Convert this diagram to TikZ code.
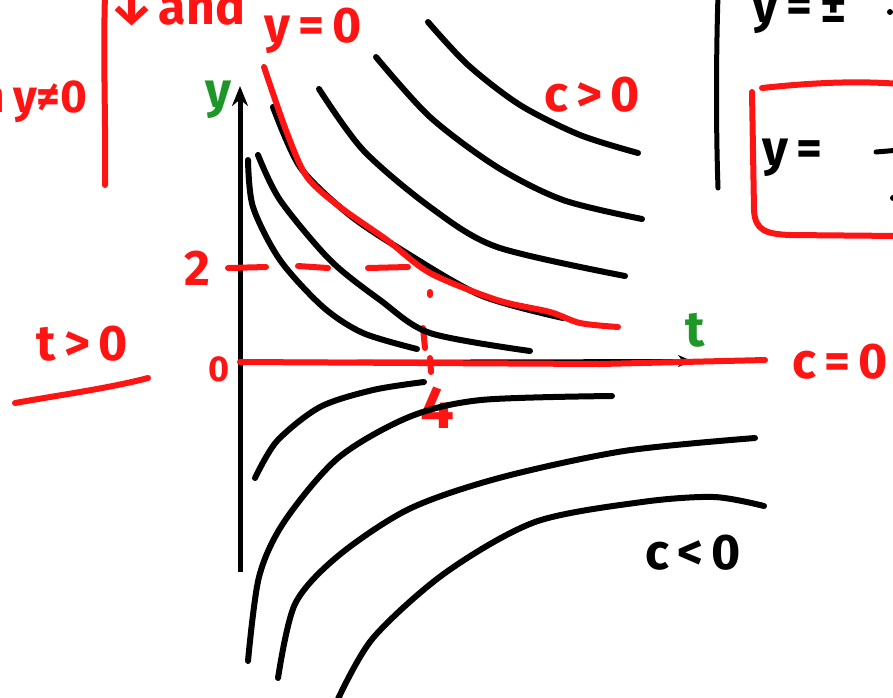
\documentclass[tikz,border=0pt]{standalone}
\usepackage{fontspec}
\setmainfont{Fira Sans}
\usetikzlibrary{arrows.meta}
\definecolor{penred}{RGB}{255,20,20}
\definecolor{pengreen}{RGB}{30,150,40}

\begin{document}
\begin{tikzpicture}[x=1pt,y=-1pt,
  blk/.style={line width=6pt,line cap=round,line join=round,black},
  rd/.style={line width=6pt,line cap=round,line join=round,penred},
  hand/.style={font=\fontsize{50}{54}\selectfont\bfseries,inner sep=0pt},
  small/.style={font=\fontsize{36}{40}\selectfont\bfseries,inner sep=0pt}]
\useasboundingbox (0,0) rectangle (893,697);
\coordinate (O) at (240,362);
% left notes
\draw[rd] (105,-5) .. controls (103,60) and (106,130) .. (105,185);
\node[hand,text=penred,anchor=base east,font=\fontsize{46}{50}\selectfont\bfseries] (ny) at (88,112) {n\,y≠0};
\node[hand,text=penred] (darr) at (132,8) {↓};
\node[hand,text=penred,anchor=base] (and) at (202,24) {and};
\node[hand,text=penred,anchor=base] (yzero) at (313,42) {y\,=\,0};
\node[hand,text=penred,anchor=base] (tpos) at (82,360) {t\,>\,0};
\draw[rd] (15,403) .. controls (60,395) and (110,388) .. (148,378);
% right notes
\draw[blk,line width=5pt] (718,-5) .. controls (716,60) and (716,130) .. (718,188);
\node[hand,anchor=base west] (ypm) at (752,22) {y\,=\,±};
\fill (890,12) circle (3pt);
\draw[rd] (762,88) .. controls (800,84) and (850,80) .. (900,84);
\draw[rd] (752,92) -- (754,210) .. controls (755,230) and (765,234) .. (790,235) -- (900,236);
\node[hand,anchor=base west] (ybox) at (762,165) {y\,=};
\draw[blk,line width=5pt] (876,152) -- (900,150);
\fill (893,198) circle (3pt);
% axes
\draw[black,line width=5pt,-{Stealth[length=20pt,width=16pt]}] (O) ++(0,210) -- (240,86) coordinate (ytop);
\node[hand,text=pengreen] (ylab) at (218,100) {y};
\draw[black,line width=4pt,-{Stealth[length=14pt,width=12pt]}] (O) -- (692,361) coordinate (tend);
\draw[rd] (O) -- (600,364) -- (765,360);
\node[hand,text=pengreen] (tlab) at (695,330) {t};
\node[hand,text=penred,anchor=base west] (czero) at (792,378) {c\,=\,0};
\node[small,text=penred] (zero) at (219,369) {0};
\node[hand,text=penred] (two) at (197,268) {2};
\node[hand,text=penred,font=\fontsize{60}{64}\selectfont\bfseries] (four) at (437,408) {4};
% dashed guide to (4,2)
\draw[rd] (228,268) -- (266,267);
\draw[rd] (298,266) -- (328,268);
\draw[rd] (368,268) -- (408,267);
\draw[rd] (425,265) -- (430,270);
\draw[rd] (430,292) -- (430,295);
\draw[rd] (423,328) -- (425,348);
\draw[rd] (430,358) -- (431,372);
% curves c>0
\draw[blk] plot[smooth] coordinates {(428,22) (468,65) (520,105) (580,135) (638,153)};
\draw[blk] plot[smooth] coordinates {(376,57) (430,117) (497,167) (563,200) (642,219)};
\draw[blk] plot[smooth] coordinates {(319,89) (363,150) (430,207) (497,247) (625,276)};
\draw[blk] plot[smooth] coordinates {(273,107) (300,167) (347,213) (397,247) (480,295) (563,318)};
\draw[blk] plot[smooth] coordinates {(258,155) (280,200) (330,260) (380,300) (430,333) (530,351)};
\draw[blk] plot[smooth] coordinates {(248,160) (253,207) (280,260) (323,307) (363,333) (417,349)};
% the one through (4,2)
\draw[rd] plot[smooth] coordinates {(264,67) (287,133) (307,177) (340,207) (387,240) (430,273) (497,300) (550,312) (580,323) (618,327)};
\node[hand,text=penred] (cpos) at (592,95) {c\,>\,0};
% curves c<0
\draw[blk] plot[smooth] coordinates {(255,478) (277,441) (320,407) (373,390) (424,382)};
\draw[blk] plot[smooth] coordinates {(248,661) (259,577) (284,522) (338,458) (409,417) (481,400) (612,396)};
\draw[blk] plot[smooth] coordinates {(278,678) (295,604) (338,556) (409,509) (499,478) (624,451) (755,438)};
\draw[blk] plot[smooth] coordinates {(338,699) (373,638) (445,573) (535,522) (642,502) (714,497) (764,506)};
\node[hand] (cneg) at (693,553) {c\,<\,0};
\end{tikzpicture}
\end{document}
